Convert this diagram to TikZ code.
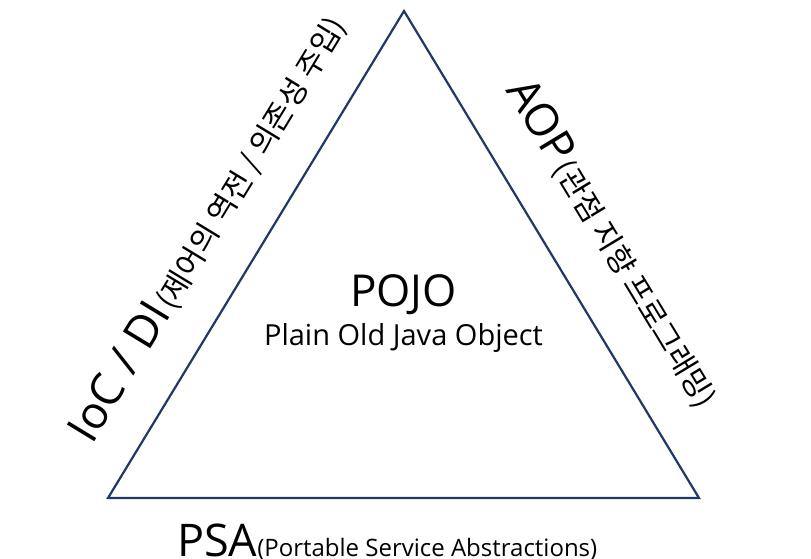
\documentclass[tikz,border=0pt]{standalone}
\usepackage{fontspec}
\setmainfont{Open Sans}
\newfontfamily\kr{Noto Sans CJK KR}
\definecolor{navy}{HTML}{203864}
\tikzset{
  side/.style={draw=navy, line width=2.2pt, line join=miter},
  lbl/.style={inner sep=0pt, outer sep=0pt, text=black},
}
\newcommand{\bigsz}{\fontsize{45}{50}\selectfont}
\newcommand{\midsz}{\fontsize{24}{30}\selectfont}
\newcommand{\korsz}{\kr\fontsize{30}{34}\selectfont}
\begin{document}
\begin{tikzpicture}[x=1pt,y=-1pt]
\useasboundingbox (0,0) rectangle (811,558);
\coordinate (A) at (404,11);
\coordinate (B) at (108,498);
\coordinate (C) at (699,498);
\draw[side] (A) -- (B) -- (C) -- cycle;
\node[lbl, anchor=base] (pojo) at (403.5,306.7) {\fontsize{44}{50}\selectfont POJO};
\node[lbl, anchor=base] (plain) at (403.5,345) {\fontsize{29}{34}\selectfont Plain Old Java Object};
\node[lbl, anchor=base west] (psa) at (177,556) {{\bigsz PSA}{\midsz (Portable Service Abstractions)}};
\node[lbl, anchor=base west, rotate=58.7] (ioc) at (92,445) {{\bigsz IoC / DI} {\korsz (제어의 역전 / 의존성 주입)}};
\node[lbl, anchor=base west, rotate=-58.8] (aop) at (505,90) {{\bigsz AOP} {\korsz (관점 지향 프로그래밍)}};
\end{tikzpicture}
\end{document}
